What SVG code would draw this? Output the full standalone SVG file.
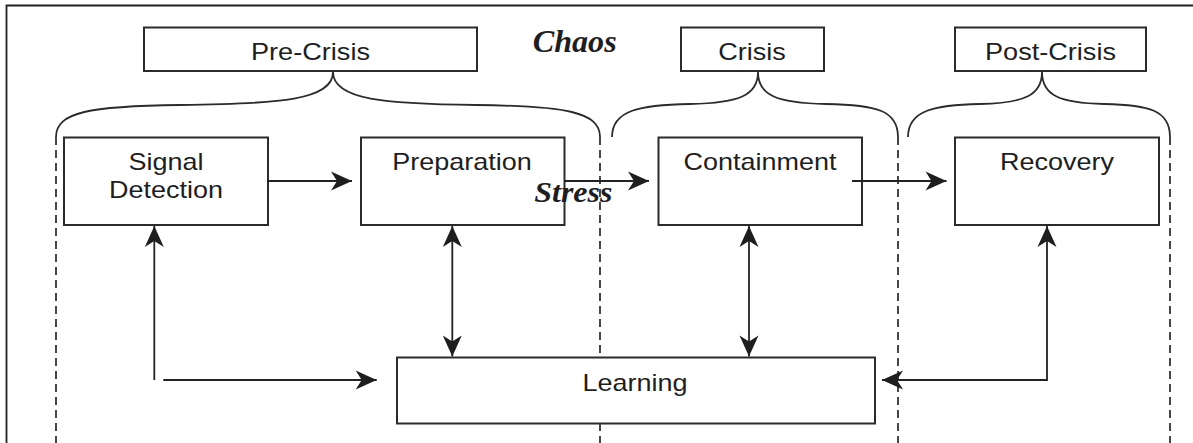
<svg xmlns="http://www.w3.org/2000/svg" width="1193" height="443" viewBox="0 0 1193 443">
<style>
.box{fill:#fff;stroke:#2b2b2b;stroke-width:2}
.lbl{font-family:"Liberation Sans",Arial,sans-serif;font-size:24px;fill:#1e1e1e;text-anchor:middle}
.it{font-family:"Liberation Serif","Times New Roman",serif;font-weight:bold;font-style:italic;fill:#1e1e1e}
.ln{fill:none;stroke:#222;stroke-width:1.8}
.br{fill:none;stroke:#2b2b2b;stroke-width:1.8}
.dash{fill:none;stroke:#333;stroke-width:1.8;stroke-dasharray:8 5}
</style>
<defs>
<marker id="ah" markerUnits="userSpaceOnUse" markerWidth="24" markerHeight="22" viewBox="-22 -11 24 22" refX="0" refY="0" orient="auto-start-reverse">
<path d="M0,0 L-21,-9.5 L-15,0 L-21,9.5 Z" fill="#1e1e1e"/>
</marker>
</defs>
<rect width="1193" height="443" fill="#fff"/>
<g id="frame"><path class="ln" d="M6.5,443 V5.5 H1193" stroke-width="1.6"/></g>
<g id="phases">
<path class="dash" d="M56,137 V443 M600,137 V443 M898,137 V443 M1170,137 V443"/>
<path class="br" d="M56,137 C56,112 90,106 180,105 C280,104 333,100 333,72 C333,100 386,104 476,105 C566,106 600,112 600,137"/>
<path class="br" d="M612,137 C612,110 640,105 690,104 C740,103 758,95 758,72 C758,95 776,103 826,104 C876,105 898,110 898,137"/>
<path class="br" d="M908,137 C908,110 935,105 980,104 C1025,103 1042,95 1042,72 C1042,95 1059,103 1104,104 C1149,105 1170,110 1170,137"/>
</g>
<g id="pre-crisis"><rect class="box" x="144" y="27.5" width="333" height="43.5"/><text class="lbl" x="310.5" y="60" textLength="119" lengthAdjust="spacingAndGlyphs">Pre-Crisis</text></g>
<g id="crisis"><rect class="box" x="681" y="27.5" width="143" height="43.5"/><text class="lbl" x="752" y="60" textLength="67.5" lengthAdjust="spacingAndGlyphs">Crisis</text></g>
<g id="post-crisis"><rect class="box" x="955" y="27.5" width="191" height="43.5"/><text class="lbl" x="1050.5" y="60" textLength="131" lengthAdjust="spacingAndGlyphs">Post-Crisis</text></g>
<g id="signal-detection"><rect class="box" x="64" y="137.5" width="204" height="87.5"/><text class="lbl" x="166" y="169.5" textLength="75" lengthAdjust="spacingAndGlyphs">Signal</text><text class="lbl" x="166" y="197.5" textLength="114" lengthAdjust="spacingAndGlyphs">Detection</text></g>
<g id="preparation"><rect class="box" x="361" y="137.5" width="203.5" height="87.5"/><text class="lbl" x="462" y="169.5" textLength="139.5" lengthAdjust="spacingAndGlyphs">Preparation</text></g>
<g id="containment"><rect class="box" x="658.5" y="137.5" width="203.5" height="87.5"/><text class="lbl" x="760" y="169.5" textLength="153" lengthAdjust="spacingAndGlyphs">Containment</text></g>
<g id="recovery"><rect class="box" x="955" y="137.5" width="204" height="87.5"/><text class="lbl" x="1057" y="169.5" textLength="114" lengthAdjust="spacingAndGlyphs">Recovery</text></g>
<g id="learning"><rect class="box" x="397" y="357.5" width="478" height="66"/><text class="lbl" x="635" y="391" textLength="105" lengthAdjust="spacingAndGlyphs">Learning</text></g>
<g id="connectors">
<path class="ln" d="M268,181 H352" marker-end="url(#ah)"/>
<path class="ln" d="M564.5,181 H649" marker-end="url(#ah)"/>
<path class="ln" d="M852,181 H946.5" marker-end="url(#ah)"/>
<path class="ln" d="M154.3,380 V226" marker-end="url(#ah)"/>
<path class="ln" d="M163.3,380 H376.7" marker-end="url(#ah)"/>
<path class="ln" d="M452.3,226 V356.5" marker-start="url(#ah)" marker-end="url(#ah)"/>
<path class="ln" d="M749,226 V356.5" marker-start="url(#ah)" marker-end="url(#ah)"/>
<path class="ln" d="M1047,226 V380 H882" marker-start="url(#ah)" marker-end="url(#ah)"/>
</g>
<g id="labels">
<text class="it" x="532.7" y="52" font-size="31" textLength="84" lengthAdjust="spacingAndGlyphs">Chaos</text>
<text class="it" x="534.3" y="201.7" font-size="29" textLength="78" lengthAdjust="spacingAndGlyphs">Stress</text>
</g>
</svg>
